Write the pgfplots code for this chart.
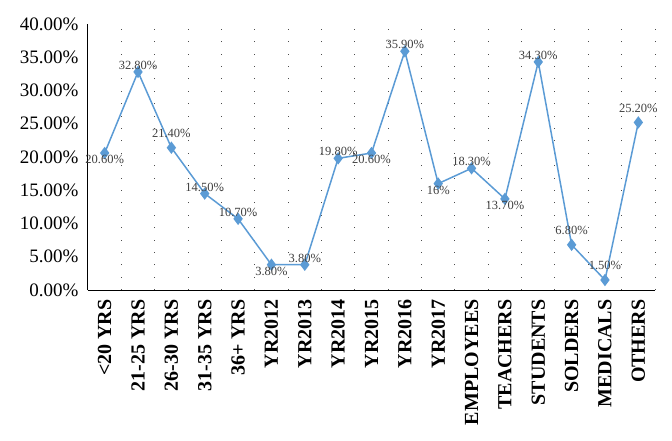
\documentclass[border=0pt]{standalone}
\usepackage{pgfplots}
\pgfplotsset{compat=1.18}
\usepackage{pgfplotstable}
\usepackage{fontspec}
\setmainfont{Liberation Serif}
\definecolor{lineblue}{HTML}{5B9BD5}
\definecolor{labgray}{HTML}{404040}

% values
\pgfplotstableread{
x y
0 20.6
1 32.8
2 21.4
3 14.5
4 10.7
5 3.8
6 3.8
7 19.8
8 20.6
9 35.9
10 16
11 18.3
12 13.7
13 34.3
14 6.8
15 1.5
16 25.2
}\datatable

% labels set just above the point
\pgfplotstableread{
x y lab
1 32.8 32.80
3 14.5 14.50
4 10.7 10.70
6 3.8 3.80
7 19.8 19.80
9 35.9 35.90
11 18.3 18.30
13 34.3 34.30
}\abovetable

% labels set further above (with leader lines in the original)
\pgfplotstableread{
x y lab
2 21.4 21.40
14 6.8 6.80
15 1.5 1.50
16 25.2 25.20
}\fartable

% labels set below the point
\pgfplotstableread{
x y lab
0 20.6 20.60
5 3.8 3.80
8 20.6 20.60
10 16 16
12 13.7 13.70
}\belowtable

\begin{document}
\begin{tikzpicture}
  \begin{axis}[
    scale only axis,
    width=567pt, height=266pt,
    xmin=-0.5, xmax=16.5,
    ymin=0, ymax=40,
    xtick={0,...,16},
    xticklabels={{<20 YRS},{21-25 YRS},{26-30 YRS},{31-35 YRS},{36+ YRS},
      YR2012,YR2013,YR2014,YR2015,YR2016,YR2017,EMPLOYEES,TEACHERS,
      STUDENTS,SOLDERS,MEDICALS,OTHERS},
    x tick label style={rotate=90,anchor=east,font=\fontsize{20}{20}\selectfont\bfseries},
    xticklabel shift=6pt,
    ytick={0,5,...,40},
    yticklabel={\pgfmathprintnumber[fixed,fixed zerofill,precision=2]{\tick}\%},
    /pgf/number format/assume math mode=true,
    y tick label style={font=\fontsize{19}{19}\selectfont},
    yticklabel shift=6pt,
    minor xtick={0.5,1.5,...,16.5},
    minor x grid style={black!70,line width=0.9pt,dash pattern=on 0.9pt off 11.5pt},
    xminorgrids,
    major tick length=0pt, minor tick length=0pt,
    axis x line*=bottom, axis y line*=left,
    axis line style={black,line width=1pt},
    clip=false,
    every node near coord/.append style={font=\fontsize{12.5}{12.5}\selectfont,
        text=labgray,inner sep=2pt},
  ]
    \addplot[lineblue,line width=1.5pt,mark=diamond*,mark size=5pt,
      mark options={fill=lineblue,draw=lineblue}]
      table[x=x,y=y] {\datatable};
    \addplot[draw=none,mark=none,
      nodes near coords={\pgfplotspointmeta\%},
      point meta=explicit symbolic,
      every node near coord/.append style={anchor=south}]
      table[x=x,y=y,meta=lab] {\abovetable};
    \addplot[draw=none,mark=none,
      nodes near coords={\pgfplotspointmeta\%},
      point meta=explicit symbolic,
      every node near coord/.append style={anchor=south,yshift=8pt}]
      table[x=x,y=y,meta=lab] {\fartable};
    \addplot[draw=none,mark=none,
      nodes near coords={\pgfplotspointmeta\%},
      point meta=explicit symbolic,
      every node near coord/.append style={anchor=north}]
      table[x=x,y=y,meta=lab] {\belowtable};
  \end{axis}
  \path ([xshift=-88pt,yshift=-150pt]current axis.south west) rectangle ++(672pt,440pt);
\end{tikzpicture}
\end{document}
